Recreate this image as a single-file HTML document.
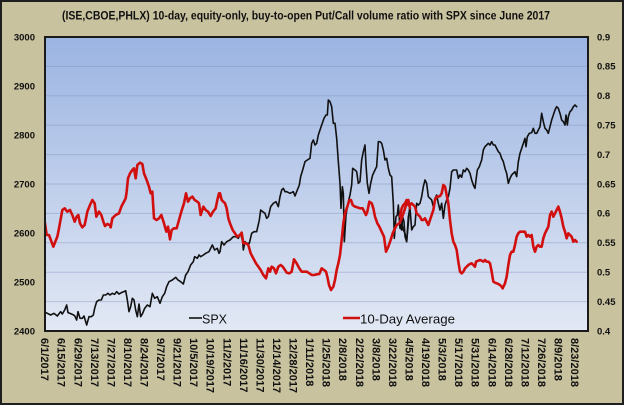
<!DOCTYPE html>
<html><head><meta charset="utf-8"><style>
html,body{margin:0;padding:0;background:#c8c29e;}
svg{display:block;}
text{font-family:"Liberation Sans",sans-serif;fill:#111;}
</style></head><body>
<svg width="624" height="405" viewBox="0 0 624 405" xmlns="http://www.w3.org/2000/svg">
<defs>
<linearGradient id="bg" x1="0" y1="0" x2="0" y2="1">
<stop offset="0" stop-color="#9bb4e2"/>
<stop offset="1" stop-color="#e2e8f4"/>
</linearGradient>
<clipPath id="pc"><rect x="45" y="37" width="543" height="294"/></clipPath>
</defs>
<rect x="0" y="0" width="624" height="405" fill="#c8c29e"/>
<rect x="1" y="1" width="622" height="403" fill="none" stroke="#1e1e1e" stroke-width="2"/>
<text x="306" y="19.5" font-size="12" font-weight="bold" text-anchor="middle" textLength="488" lengthAdjust="spacingAndGlyphs">(ISE,CBOE,PHLX) 10-day, equity-only, buy-to-open Put/Call volume ratio with SPX since June 2017</text>
<rect x="45" y="37" width="543" height="294" fill="url(#bg)"/>
<g stroke="#8095c0" stroke-opacity="0.45" stroke-width="1">
<line x1="45" x2="588" y1="66.4" y2="66.4"/><line x1="45" x2="588" y1="95.8" y2="95.8"/>
<line x1="45" x2="588" y1="125.2" y2="125.2"/><line x1="45" x2="588" y1="154.6" y2="154.6"/>
<line x1="45" x2="588" y1="184" y2="184"/><line x1="45" x2="588" y1="213.4" y2="213.4"/>
<line x1="45" x2="588" y1="242.8" y2="242.8"/><line x1="45" x2="588" y1="272.2" y2="272.2"/>
<line x1="45" x2="588" y1="301.6" y2="301.6"/>
</g>
<g clip-path="url(#pc)" fill="none" stroke-linejoin="round" stroke-linecap="round">
<g stroke="#111" stroke-width="1.6">
<polyline vector-effect="non-scaling-stroke" transform="translate(44,140) scale(0.33333)" points="0,515 10,520 20,525 30,520 40,528 50,515 55,522 62,510 68,495 72,518 78,520 85,523 92,527 98,540 102,515 108,535 115,535 120,528 128,555 135,530 142,530 148,525 152,505 158,485 165,480 172,480 178,465 185,465 192,460 198,465 205,460 212,463 218,455 225,462 232,458 240,455 245,452 250,480 255,515 260,500 265,475 270,480 275,510 280,530 285,492 290,530 296,520 302,505 310,495 318,500 325,460 332,475 340,470 348,490 355,470 362,460 368,440 375,425 385,420 395,412 402,420 410,425 418,432 425,405 432,395 440,375 448,365 452,350 460,355 465,345 470,350 478,345 485,340 495,335 505,315 512,330 520,325 525,340 528,335"/>
<polyline vector-effect="non-scaling-stroke" transform="translate(220,90) scale(0.33333)" points="0,485 5,455 12,465 20,455 30,450 40,440 48,440 55,445 62,430 68,455 70,480 75,455 80,460 88,460 95,430 102,425 110,425 118,390 122,360 128,365 135,370 140,385 145,380 152,350 160,340 168,335 175,350 180,320 185,300 190,295 195,305 200,305 210,310 220,305 225,318 232,300 238,285 242,260 248,240 255,215 262,210 270,205 275,160 280,150 285,165 290,160 295,135 300,120 305,105 312,85 318,75 322,75 325,30 330,35 335,50 340,100 345,100 350,145 355,215 360,280 363,355 367,290 370,310 373,455 378,375 385,335 390,315 395,285 398,235 405,240 410,245 415,280 420,275 425,210 430,185 435,165 438,225 442,280 447,310 452,280 458,255 465,240 470,230 475,155 480,155 485,160 490,180 495,210 500,205 505,235 510,255 515,260 520,340 523,445 528,380 532,375 535,345 540,415 545,400 550,420 555,430 560,455 565,400 570,340"/>
<polyline vector-effect="non-scaling-stroke" transform="translate(400,90) scale(0.33333)" points="0,410 5,420 8,380 12,395 15,440 20,455 25,380 30,355 35,420 40,410 45,405 50,340 55,345 60,340 65,320 70,290 75,270 80,280 85,320 90,325 95,330 100,350 105,325 110,315 115,340 120,360 125,340 130,385 135,345 140,330 145,320 150,295 155,245 160,240 165,240 170,240 175,265 180,255 185,262 190,240 195,245 200,235 205,240 210,250 215,270 220,285 225,295 228,270 232,240 238,230 245,210 250,180 255,170 260,165 265,160 270,165 275,155 280,165 285,165 290,175 295,185 300,190 305,205 310,215 315,235 320,250 325,280 330,265 335,255 340,250 345,245 350,260 355,215 360,190 365,175 370,160 375,145 378,170 382,140 388,130 395,128 400,115 405,130 410,130 415,120 420,110 425,70 430,95 435,115 440,120 445,130 450,110 455,90 460,75 465,60 470,50 475,55 480,70 485,90 490,95 495,105 498,75 502,105 505,80 510,65 515,60 520,50 525,45 530,50"/>
</g>
<g stroke="#d20f0f" stroke-width="2.6">
<polyline vector-effect="non-scaling-stroke" transform="translate(44,140) scale(0.33333)" points="0,230 8,285 15,285 28,320 40,290 45,265 55,210 62,205 70,215 78,210 85,225 92,245 98,230 103,225 108,250 115,262 122,255 130,215 138,195 145,180 152,190 157,230 165,215 172,225 178,245 183,258 190,252 197,255 200,262 205,235 215,225 225,220 232,200 240,185 245,175 248,155 252,115 258,100 265,90 270,85 275,115 280,75 288,68 295,72 300,100 308,120 315,140 320,160 325,155 330,235 338,240 345,235 352,225 360,250 367,275 372,260 378,298 383,270 390,265 398,265 405,240 412,215 420,190 426,160 432,185 438,175 445,170 452,180 460,185 465,190 470,225 478,200 485,210 492,215 500,228 507,215 515,205 520,180 525,160 528,170"/>
<polyline vector-effect="non-scaling-stroke" transform="translate(220,90) scale(0.33333)" points="0,310 5,330 10,335 15,340 20,355 25,385 30,400 38,420 45,430 52,440 60,435 65,428 70,460 78,460 85,465 92,490 100,505 108,520 115,530 122,540 130,555 138,565 145,535 150,545 155,530 162,535 168,550 175,530 182,525 188,530 195,540 200,548 208,550 215,545 222,508 230,520 238,535 245,545 252,545 260,545 268,550 275,555 282,555 290,553 298,552 305,535 312,540 318,545 322,560 327,585 333,600 340,590 345,570 350,540 355,520 360,495 365,450 370,400 375,370 382,350 388,330 393,330 398,345 405,350 412,352 420,355 428,355 433,365 438,375 442,365 448,335 455,340 460,355 465,380 472,400 478,410 485,425 492,440 498,485 505,470 512,450 518,430 525,415 530,405 538,400 545,385 552,365 560,340 565,330 570,355"/>
<polyline vector-effect="non-scaling-stroke" transform="translate(400,90) scale(0.33333)" points="0,380 5,355 10,345 15,340 20,330 25,345 30,345 35,340 40,345 45,350 50,370 55,375 60,380 65,390 70,390 75,385 80,395 85,405 90,390 95,375 100,360 105,330 110,320 115,320 120,318 125,310 130,285 135,290 140,315 145,340 150,390 155,430 160,455 165,465 170,480 175,515 180,545 185,550 190,545 195,535 200,530 205,525 210,522 215,520 220,525 225,530 228,515 235,512 240,510 245,512 250,515 255,510 260,515 265,515 270,520 275,545 280,575 285,578 290,580 295,582 300,585 305,590 308,595 315,580 320,560 325,525 330,495 335,485 340,485 345,465 350,440 355,430 360,425 365,425 370,425 375,425 380,440 385,435 390,440 395,435 400,470 405,485 410,470 415,465 420,470 425,470 430,445 435,430 440,420 445,410 450,375 455,365 460,380 465,370 470,360 475,350 480,365 485,385 490,410 495,425 500,445 505,430 510,435 515,440 520,455 525,450 530,455"/>
</g>
</g>
<rect x="45" y="37" width="543" height="294" fill="none" stroke="#1a1a1a" stroke-width="2"/>
<!-- legend -->
<line x1="189" x2="202" y1="318" y2="318" stroke="#111" stroke-width="1.6"/>
<text x="202" y="323.5" font-size="13" textLength="25" lengthAdjust="spacingAndGlyphs">SPX</text>
<line x1="343" x2="360" y1="318" y2="318" stroke="#d20f0f" stroke-width="2.6"/>
<text x="360" y="323.5" font-size="13" textLength="95" lengthAdjust="spacingAndGlyphs">10-Day Average</text>
<!-- left axis -->
<g font-size="9.5" font-weight="bold" text-anchor="end">
<text x="35" y="37" dy="0.35em">3000</text>
<text x="35" y="86" dy="0.35em">2900</text>
<text x="35" y="135" dy="0.35em">2800</text>
<text x="35" y="184" dy="0.35em">2700</text>
<text x="35" y="233" dy="0.35em">2600</text>
<text x="35" y="282" dy="0.35em">2500</text>
<text x="35" y="331" dy="0.35em">2400</text>
</g>
<!-- right axis -->
<g font-size="9.5" font-weight="bold" text-anchor="start">
<text x="597" y="37" dy="0.35em">0.9</text>
<text x="597" y="66.4" dy="0.35em">0.85</text>
<text x="597" y="95.8" dy="0.35em">0.8</text>
<text x="597" y="125.2" dy="0.35em">0.75</text>
<text x="597" y="154.6" dy="0.35em">0.7</text>
<text x="597" y="184" dy="0.35em">0.65</text>
<text x="597" y="213.4" dy="0.35em">0.6</text>
<text x="597" y="242.8" dy="0.35em">0.55</text>
<text x="597" y="272.2" dy="0.35em">0.5</text>
<text x="597" y="301.6" dy="0.35em">0.45</text>
<text x="597" y="331" dy="0.35em">0.4</text>
</g>
<!-- x axis labels -->
<g font-size="11" font-weight="bold">
<text transform="translate(45,338) rotate(90)" dy="0.35em">6/1/2017</text>
<text transform="translate(61.56,338) rotate(90)" dy="0.35em">6/15/2017</text>
<text transform="translate(78.12,338) rotate(90)" dy="0.35em">6/29/2017</text>
<text transform="translate(94.68,338) rotate(90)" dy="0.35em">7/13/2017</text>
<text transform="translate(111.24,338) rotate(90)" dy="0.35em">7/27/2017</text>
<text transform="translate(127.8,338) rotate(90)" dy="0.35em">8/10/2017</text>
<text transform="translate(144.36,338) rotate(90)" dy="0.35em">8/24/2017</text>
<text transform="translate(160.92,338) rotate(90)" dy="0.35em">9/7/2017</text>
<text transform="translate(177.48,338) rotate(90)" dy="0.35em">9/21/2017</text>
<text transform="translate(194.04,338) rotate(90)" dy="0.35em">10/5/2017</text>
<text transform="translate(210.6,338) rotate(90)" dy="0.35em">10/19/2017</text>
<text transform="translate(227.16,338) rotate(90)" dy="0.35em">11/2/2017</text>
<text transform="translate(243.72,338) rotate(90)" dy="0.35em">11/16/2017</text>
<text transform="translate(260.28,338) rotate(90)" dy="0.35em">11/30/2017</text>
<text transform="translate(276.84,338) rotate(90)" dy="0.35em">12/14/2017</text>
<text transform="translate(293.4,338) rotate(90)" dy="0.35em">12/28/2017</text>
<text transform="translate(309.96,338) rotate(90)" dy="0.35em">1/11/2018</text>
<text transform="translate(326.52,338) rotate(90)" dy="0.35em">1/25/2018</text>
<text transform="translate(343.08,338) rotate(90)" dy="0.35em">2/8/2018</text>
<text transform="translate(359.64,338) rotate(90)" dy="0.35em">2/22/2018</text>
<text transform="translate(376.2,338) rotate(90)" dy="0.35em">3/8/2018</text>
<text transform="translate(392.76,338) rotate(90)" dy="0.35em">3/22/2018</text>
<text transform="translate(409.32,338) rotate(90)" dy="0.35em">4/5/2018</text>
<text transform="translate(425.88,338) rotate(90)" dy="0.35em">4/19/2018</text>
<text transform="translate(442.44,338) rotate(90)" dy="0.35em">5/3/2018</text>
<text transform="translate(459,338) rotate(90)" dy="0.35em">5/17/2018</text>
<text transform="translate(475.56,338) rotate(90)" dy="0.35em">5/31/2018</text>
<text transform="translate(492.12,338) rotate(90)" dy="0.35em">6/14/2018</text>
<text transform="translate(508.68,338) rotate(90)" dy="0.35em">6/28/2018</text>
<text transform="translate(525.24,338) rotate(90)" dy="0.35em">7/12/2018</text>
<text transform="translate(541.8,338) rotate(90)" dy="0.35em">7/26/2018</text>
<text transform="translate(558.36,338) rotate(90)" dy="0.35em">8/9/2018</text>
<text transform="translate(574.92,338) rotate(90)" dy="0.35em">8/23/2018</text>
</g>
</svg>
</body></html>
